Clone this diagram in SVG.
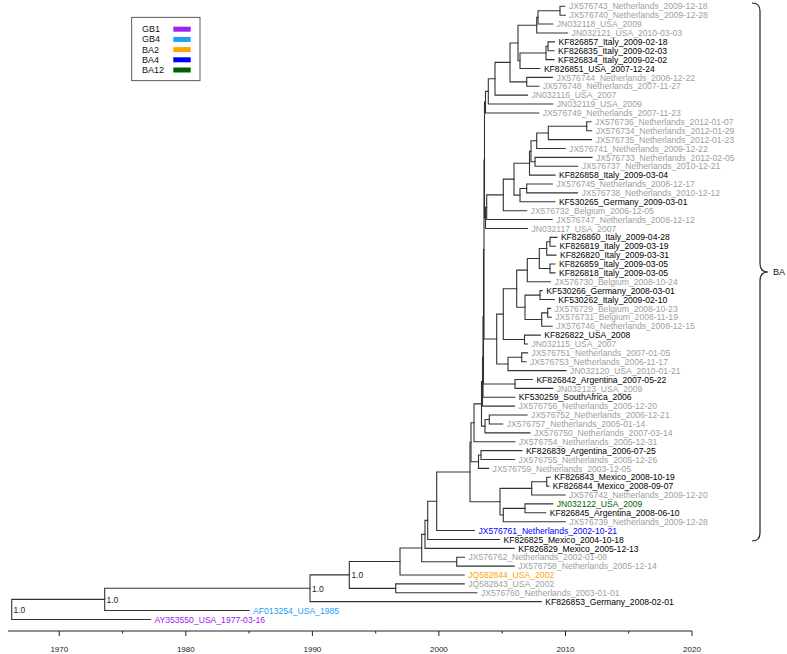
<svg xmlns="http://www.w3.org/2000/svg" width="787" height="654" viewBox="0 0 787 654">
<style>
.br{fill:none;stroke:#333;stroke-width:1.1;stroke-linecap:square}
.lf{font-family:"Liberation Sans",Arial,Helvetica,sans-serif;font-size:8.6px}
.g{fill:#a0a0a0}.k{fill:#000}
.c-gb1{fill:#a020f0}.c-gb4{fill:#1ea0f5}.c-ba2{fill:#ffa500}.c-ba4{fill:#0000ff}.c-ba12{fill:#006400}
.sup{font-family:"Liberation Sans",Arial,Helvetica,sans-serif;font-size:8.5px;fill:#222}
.ax{fill:none;stroke:#222;stroke-width:1}
.tk{font-family:"Liberation Sans",Arial,Helvetica,sans-serif;font-size:8px;fill:#222;text-anchor:middle}
.leg{font-family:"Liberation Sans",Arial,Helvetica,sans-serif;font-size:9px;fill:#111}
</style>
<rect width="787" height="654" fill="#fff"/>
<g id="connectors" class="br">
<path d="M564.9,6.30H560V15.19H565.3"/>
<path d="M560,10.745H538V24.07H552.8"/>
<path d="M538,17.41H536.7V32.96H567.6"/>
<path d="M554.5,41.84H548V50.73H554.0"/>
<path d="M548,46.285H546V59.62H554.0"/>
<path d="M546,52.95H520V68.50H539.9"/>
<path d="M536.7,25.185H518V60.725H520"/>
<path d="M552.4,77.39H526.7V86.27H538.9"/>
<path d="M518,42.955H510V81.83H526.7"/>
<path d="M510,62.39H495V95.16H527.5"/>
<path d="M495,78.775H488.3V104.05H552.8"/>
<path d="M488.3,91.41H485.5V112.93H538.8"/>
<path d="M591.0,121.82H586.7V130.70H591.8"/>
<path d="M586.7,126.26H548.3V139.59H591.5"/>
<path d="M548.3,132.925H536.7V148.48H565.1"/>
<path d="M592.0,157.36H535V166.25H577.7"/>
<path d="M536.7,140.70H531V161.805H535"/>
<path d="M531,151.25H529.5V175.13H555.0"/>
<path d="M552.3,184.02H526.7V192.91H577.5"/>
<path d="M526.7,188.465H520V201.79H554.9"/>
<path d="M529.5,163.19H514V195.13H520"/>
<path d="M514,179.16H503.3V210.68H526.6"/>
<path d="M503.3,194.92H486.7V219.56H552.2"/>
<path d="M486.7,207.24H485.5V228.45H527.5"/>
<path d="M556.9,237.34H550V246.22H555.5"/>
<path d="M550,241.78H546.7V255.11H556.0"/>
<path d="M555.0,263.99H550V272.88H555.0"/>
<path d="M546.7,248.445H539.3V268.435H550"/>
<path d="M539.3,258.44H527.3V281.77H550.4"/>
<path d="M542.2,290.65H540V299.54H554.3"/>
<path d="M550.4,308.42H547.7V317.31H551.3"/>
<path d="M547.7,312.865H541.7V326.20H552.2"/>
<path d="M540,295.095H525V319.53H541.7"/>
<path d="M527.3,270.105H516.7V307.31H525"/>
<path d="M540.2,335.08H524.5V343.97H527.5"/>
<path d="M516.7,288.71H503.3V339.525H524.5"/>
<path d="M527.6,352.85H521.7V361.74H526.0"/>
<path d="M521.7,357.295H508V370.63H566.1"/>
<path d="M503.3,314.12H496.7V363.96H508"/>
<path d="M532.4,379.51H515V388.40H552.8"/>
<path d="M485.5,102.17H484.5V217.845H485.5"/>
<path d="M484.5,160.01H484V339.04H496.7"/>
<path d="M484,249.525H483.5V383.955H515"/>
<path d="M483.5,316.74H483V397.28H514.8"/>
<path d="M483,357.01H482.5V406.17H514.5"/>
<path d="M527.1,415.06H489.3V423.94H502.7"/>
<path d="M489.3,419.5H485V432.83H530.0"/>
<path d="M482.5,381.59H481.5V426.165H485"/>
<path d="M481.5,403.88H474V441.71H514.8"/>
<path d="M521.9,450.60H481V459.49H514.6"/>
<path d="M481,455.045H478.5V468.37H488.6"/>
<path d="M474,422.795H471V461.71H478.5"/>
<path d="M550.3,477.26H546.7V486.14H548.8"/>
<path d="M546.7,481.70H531.7V495.03H565.1"/>
<path d="M552.8,503.92H525V512.80H545.7"/>
<path d="M525,508.36H503.3V521.69H565.3"/>
<path d="M531.7,488.365H500V515.025H503.3"/>
<path d="M471,442.25H470V501.695H500"/>
<path d="M470,471.97H436.7V530.57H474.4"/>
<path d="M436.7,501.27H427.7V539.46H499.5"/>
<path d="M427.7,520.365H425V548.35H514.2"/>
<path d="M464.5,557.23H456.7V566.12H514.2"/>
<path d="M425,534.36H421.7V561.675H456.7"/>
<path d="M421.7,548.02H400V575.00H464.2"/>
<path d="M464.2,583.89H395.7V592.78H476.9"/>
<path d="M400,561.51H349.3V588.335H395.7"/>
<path d="M349.3,574.92H310V601.66H541.3"/>
<path d="M310,588.29H104.7V610.55H249.1"/>
<path d="M104.7,599.42H11.7V619.43H150.4"/>
</g>
<g id="support">
<g id="node-root"><text class="sup" x="13.5" y="612.5">1.0</text></g>
<g id="node-A"><text class="sup" x="106.5" y="602.5">1.0</text></g>
<g id="node-B"><text class="sup" x="312" y="591.5">1.0</text></g>
<g id="node-C"><text class="sup" x="351.5" y="578">1.0</text></g>
</g>
<g id="leaves" class="lf">
<g id="leaf-JX576743"><text class="g" x="568.9" y="9.4">JX576743_Netherlands_2009-12-18</text></g>
<g id="leaf-JX576740"><text class="g" x="569.3" y="18.3">JX576740_Netherlands_2009-12-28</text></g>
<g id="leaf-JN032118"><text class="g" x="556.8" y="27.2">JN032118_USA_2009</text></g>
<g id="leaf-JN032121"><text class="g" x="571.6" y="36.1">JN032121_USA_2010-03-03</text></g>
<g id="leaf-KF826857"><text class="k" x="558.5" y="44.9">KF826857_Italy_2009-02-18</text></g>
<g id="leaf-KF826835"><text class="k" x="558.0" y="53.8">KF826835_Italy_2009-02-03</text></g>
<g id="leaf-KF826834"><text class="k" x="558.0" y="62.7">KF826834_Italy_2009-02-02</text></g>
<g id="leaf-KF826851"><text class="k" x="543.9" y="71.6">KF826851_USA_2007-12-24</text></g>
<g id="leaf-JX576744"><text class="g" x="556.4" y="80.5">JX576744_Netherlands_2008-12-22</text></g>
<g id="leaf-JX576748"><text class="g" x="542.9" y="89.4">JX576748_Netherlands_2007-11-27</text></g>
<g id="leaf-JN032116"><text class="g" x="531.5" y="98.3">JN032116_USA_2007</text></g>
<g id="leaf-JN032119"><text class="g" x="556.8" y="107.2">JN032119_USA_2009</text></g>
<g id="leaf-JX576749"><text class="g" x="542.8" y="116.0">JX576749_Netherlands_2007-11-23</text></g>
<g id="leaf-JX576736"><text class="g" x="595.0" y="124.9">JX576736_Netherlands_2012-01-07</text></g>
<g id="leaf-JX576734"><text class="g" x="595.8" y="133.8">JX576734_Netherlands_2012-01-29</text></g>
<g id="leaf-JX576735"><text class="g" x="595.5" y="142.7">JX576735_Netherlands_2012-01-23</text></g>
<g id="leaf-JX576741"><text class="g" x="569.1" y="151.6">JX576741_Netherlands_2009-12-22</text></g>
<g id="leaf-JX576733"><text class="g" x="596.0" y="160.5">JX576733_Netherlands_2012-02-05</text></g>
<g id="leaf-JX576737"><text class="g" x="581.7" y="169.4">JX576737_Netherlands_2010-12-21</text></g>
<g id="leaf-KF826858"><text class="k" x="559.0" y="178.2">KF826858_Italy_2009-03-04</text></g>
<g id="leaf-JX576745"><text class="g" x="556.3" y="187.1">JX576745_Netherlands_2008-12-17</text></g>
<g id="leaf-JX576738"><text class="g" x="581.5" y="196.0">JX576738_Netherlands_2010-12-12</text></g>
<g id="leaf-KF530265"><text class="k" x="558.9" y="204.9">KF530265_Germany_2009-03-01</text></g>
<g id="leaf-JX576732"><text class="g" x="530.6" y="213.8">JX576732_Belgium_2006-12-05</text></g>
<g id="leaf-JX576747"><text class="g" x="556.2" y="222.7">JX576747_Netherlands_2008-12-12</text></g>
<g id="leaf-JN032117"><text class="g" x="531.5" y="231.6">JN032117_USA_2007</text></g>
<g id="leaf-KF826860"><text class="k" x="560.9" y="240.4">KF826860_Italy_2009-04-28</text></g>
<g id="leaf-KF826819"><text class="k" x="559.5" y="249.3">KF826819_Italy_2009-03-19</text></g>
<g id="leaf-KF826820"><text class="k" x="560.0" y="258.2">KF826820_Italy_2009-03-31</text></g>
<g id="leaf-KF826859"><text class="k" x="559.0" y="267.1">KF826859_Italy_2009-03-05</text></g>
<g id="leaf-KF826818"><text class="k" x="559.0" y="276.0">KF826818_Italy_2009-03-05</text></g>
<g id="leaf-JX576730"><text class="g" x="554.4" y="284.9">JX576730_Belgium_2008-10-24</text></g>
<g id="leaf-KF530266"><text class="k" x="546.2" y="293.8">KF530266_Germany_2008-03-01</text></g>
<g id="leaf-KF530262"><text class="k" x="558.3" y="302.6">KF530262_Italy_2009-02-10</text></g>
<g id="leaf-JX576729"><text class="g" x="554.4" y="311.5">JX576729_Belgium_2008-10-23</text></g>
<g id="leaf-JX576731"><text class="g" x="555.3" y="320.4">JX576731_Belgium_2008-11-19</text></g>
<g id="leaf-JX576746"><text class="g" x="556.2" y="329.3">JX576746_Netherlands_2008-12-15</text></g>
<g id="leaf-KF826822"><text class="k" x="544.2" y="338.2">KF826822_USA_2008</text></g>
<g id="leaf-JN032115"><text class="g" x="531.5" y="347.1">JN032115_USA_2007</text></g>
<g id="leaf-JX576751"><text class="g" x="531.6" y="356.0">JX576751_Netherlands_2007-01-05</text></g>
<g id="leaf-JX576753"><text class="g" x="530.0" y="364.8">JX576753_Netherlands_2006-11-17</text></g>
<g id="leaf-JN032120"><text class="g" x="570.1" y="373.7">JN032120_USA_2010-01-21</text></g>
<g id="leaf-KF826842"><text class="k" x="536.4" y="382.6">KF826842_Argentina_2007-05-22</text></g>
<g id="leaf-JN032123"><text class="g" x="556.8" y="391.5">JN032123_USA_2009</text></g>
<g id="leaf-KF530259"><text class="k" x="518.8" y="400.4">KF530259_SouthAfrica_2006</text></g>
<g id="leaf-JX576756"><text class="g" x="518.5" y="409.3">JX576756_Netherlands_2005-12-20</text></g>
<g id="leaf-JX576752"><text class="g" x="531.1" y="418.2">JX576752_Netherlands_2006-12-21</text></g>
<g id="leaf-JX576757"><text class="g" x="506.7" y="427.0">JX576757_Netherlands_2005-01-14</text></g>
<g id="leaf-JX576750"><text class="g" x="534.0" y="435.9">JX576750_Netherlands_2007-03-14</text></g>
<g id="leaf-JX576754"><text class="g" x="518.8" y="444.8">JX576754_Netherlands_2005-12-31</text></g>
<g id="leaf-KF826839"><text class="k" x="525.9" y="453.7">KF826839_Argentina_2006-07-25</text></g>
<g id="leaf-JX576755"><text class="g" x="518.6" y="462.6">JX576755_Netherlands_2005-12-26</text></g>
<g id="leaf-JX576759"><text class="g" x="492.6" y="471.5">JX576759_Netherlands_2003-12-05</text></g>
<g id="leaf-KF826843"><text class="k" x="554.3" y="480.4">KF826843_Mexico_2008-10-19</text></g>
<g id="leaf-KF826844"><text class="k" x="552.8" y="489.2">KF826844_Mexico_2008-09-07</text></g>
<g id="leaf-JX576742"><text class="g" x="569.1" y="498.1">JX576742_Netherlands_2009-12-20</text></g>
<g id="leaf-JN032122"><text class="c-ba12" x="556.8" y="507.0">JN032122_USA_2009</text></g>
<g id="leaf-KF826845"><text class="k" x="549.7" y="515.9">KF826845_Argentina_2008-06-10</text></g>
<g id="leaf-JX576739"><text class="g" x="569.3" y="524.8">JX576739_Netherlands_2009-12-28</text></g>
<g id="leaf-JX576761"><text class="c-ba4" x="478.4" y="533.7">JX576761_Netherlands_2002-10-21</text></g>
<g id="leaf-KF826825"><text class="k" x="503.5" y="542.6">KF826825_Mexico_2004-10-18</text></g>
<g id="leaf-KF826829"><text class="k" x="518.2" y="551.5">KF826829_Mexico_2005-12-13</text></g>
<g id="leaf-JX576762"><text class="g" x="468.5" y="560.3">JX576762_Netherlands_2002-01-08</text></g>
<g id="leaf-JX576758"><text class="g" x="518.2" y="569.2">JX576758_Netherlands_2005-12-14</text></g>
<g id="leaf-JQ582844"><text class="c-ba2" x="468.2" y="578.1">JQ582844_USA_2002</text></g>
<g id="leaf-JQ582843"><text class="g" x="468.2" y="587.0">JQ582843_USA_2002</text></g>
<g id="leaf-JX576760"><text class="g" x="480.9" y="595.9">JX576760_Netherlands_2003-01-01</text></g>
<g id="leaf-KF826853"><text class="k" x="545.3" y="604.8">KF826853_Germany_2008-02-01</text></g>
<g id="leaf-AF013254"><text class="c-gb4" x="253.1" y="613.7">AF013254_USA_1985</text></g>
<g id="leaf-AY353550"><text class="c-gb1" x="154.4" y="622.5">AY353550_USA_1977-03-16</text></g>
</g>
<g id="axis">
<path class="ax" d="M8,631H692"/>
<path class="ax" d="M59.3,631v5M185.8,631v5M312.4,631v5M438.9,631v5M565.5,631v5M692,631v5M122.6,631v2.5M249.1,631v2.5M375.7,631v2.5M502.2,631v2.5M628.7,631v2.5"/>
<text class="tk" x="59.3" y="652">1970</text>
<text class="tk" x="185.8" y="652">1980</text>
<text class="tk" x="312.4" y="652">1990</text>
<text class="tk" x="438.9" y="652">2000</text>
<text class="tk" x="565.5" y="652">2010</text>
<text class="tk" x="692" y="652">2020</text>
</g>
<g id="legend">
<rect x="131.7" y="17.3" width="68.3" height="63.4" fill="#fff" stroke="#333" stroke-width="0.8"/>
<text class="leg" x="142" y="32.2">GB1</text>
<text class="leg" x="142" y="42.4">GB4</text>
<text class="leg" x="142" y="52.6">BA2</text>
<text class="leg" x="142" y="62.8">BA4</text>
<text class="leg" x="142" y="73">BA12</text>
<rect class="c-gb1" x="173.3" y="26.7" width="17.4" height="5"/>
<rect class="c-gb4" x="173.3" y="36.9" width="17.4" height="5"/>
<rect class="c-ba2" x="173.3" y="47.1" width="17.4" height="5"/>
<rect class="c-ba4" x="173.3" y="57.3" width="17.4" height="5"/>
<rect class="c-ba12" x="173.3" y="67.5" width="17.4" height="5"/>
</g>
<g id="clade-BA">
<path d="M752,3Q760,3 760,11V263Q760,272 768,272Q760,272 760,281V533Q760,541 752,541" fill="none" stroke="#222" stroke-width="1.2"/>
<text class="leg" x="773" y="275">BA</text>
</g>
</svg>
